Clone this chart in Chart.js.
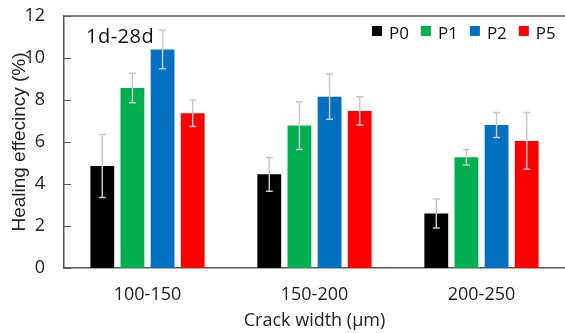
<!DOCTYPE html>
<html>
<head>
<meta charset="utf-8">
<script src="https://cdn.jsdelivr.net/npm/chart.js"></script>
<style>
  html, body { margin: 0; padding: 0; background: #fff; }
  #wrap { width: 565px; height: 333px; position: relative; }
</style>
</head>
<body>
<div id="wrap"><canvas id="myChart"></canvas></div>
<script>
var categories = ['100-150', '150-200', '200-250'];
var seriesNames = ['P0', 'P1', 'P2', 'P5'];
var p0 = [4.86, 4.46, 2.60];
var p1 = [8.57, 6.78, 5.27];
var p2 = [10.41, 8.16, 6.81];
var p5 = [7.37, 7.48, 6.05];
var p0Err = [1.50, 0.80, 0.69];
var p1Err = [0.70, 1.14, 0.37];
var p2Err = [0.92, 1.08, 0.60];
var p5Err = [0.63, 0.67, 1.35];
var yTicks = [0, 2, 4, 6, 8, 10, 12];

var colors = ['#000000', '#00B050', '#0070C0', '#FF0000'];
var values = [p0, p1, p2, p5];
var errors = [p0Err, p1Err, p2Err, p5Err];

var datasets = seriesNames.map(function (name, i) {
  return {
    label: name,
    data: values[i],
    errors: errors[i],
    backgroundColor: colors[i],
    borderWidth: 0,
    categoryPercentage: 0.722,
    barPercentage: 0.79
  };
});

// error bars, top frame line, inside ticks, panel label and legend
var extras = {
  id: 'extras',
  afterDatasetsDraw: function (chart) {
    var ctx = chart.ctx;
    var y = chart.scales.y;
    var area = chart.chartArea;
    ctx.save();
    ctx.strokeStyle = '#c8c8c8';
    ctx.lineWidth = 1.5;
    chart.data.datasets.forEach(function (ds, di) {
      var meta = chart.getDatasetMeta(di);
      meta.data.forEach(function (bar, j) {
        var v = ds.data[j], e = ds.errors[j];
        var top = y.getPixelForValue(v + e);
        var bot = y.getPixelForValue(v - e);
        ctx.beginPath();
        ctx.moveTo(bar.x, top); ctx.lineTo(bar.x, bot);
        ctx.moveTo(bar.x - 3.5, top); ctx.lineTo(bar.x + 3.5, top);
        ctx.moveTo(bar.x - 3.5, bot); ctx.lineTo(bar.x + 3.5, bot);
        ctx.stroke();
      });
    });

    ctx.strokeStyle = '#595959';
    ctx.lineWidth = 1.5;
    ctx.beginPath();
    ctx.moveTo(area.left, area.top);
    ctx.lineTo(area.right, area.top);
    ctx.stroke();
    ctx.lineWidth = 1;
    ctx.beginPath();
    yTicks.forEach(function (t) {
      var py = Math.round(y.getPixelForValue(t)) + 0.5;
      ctx.moveTo(area.left, py); ctx.lineTo(area.left + 7, py);
    });
    ctx.stroke();

    ctx.fillStyle = '#111';
    ctx.font = '20px "Open Sans"';
    ctx.textAlign = 'left';
    ctx.textBaseline = 'alphabetic';
    ctx.letterSpacing = '0.5px';
    ctx.fillText('1d-28d', 86, 43);
    ctx.letterSpacing = '0px';

    ctx.font = '17px "Open Sans"';
    var lx = 372;
    seriesNames.forEach(function (name, i) {
      ctx.fillStyle = colors[i];
      ctx.fillRect(lx, 26, 10, 10);
      ctx.fillStyle = '#111';
      ctx.fillText(name, lx + 17, 39);
      lx += 17 + ctx.measureText(name).width + 12;
    });
    ctx.restore();
  }
};

var ctx1 = document.getElementById('myChart').getContext('2d');
var myChart = new Chart(ctx1, {
  type: 'bar',
  data: { labels: categories, datasets: datasets },
  options: {
    responsive: true,
    maintainAspectRatio: false,
    animation: false,
    layout: { padding: { top: 16, right: -4, left: 0, bottom: 0 } },
    plugins: {
      legend: { display: false },
      tooltip: { enabled: false }
    },
    scales: {
      x: {
        grid: { display: false, drawTicks: false },
        border: { display: true, color: '#595959', width: 1.5 },
        ticks: { color: '#222', font: { family: 'Open Sans', size: 18 }, padding: 16 },
        title: {
          display: true,
          text: 'Crack width (\u03bcm)',
          color: '#222',
          font: { family: 'Open Sans', size: 18 },
          padding: { top: 0, bottom: 1 }
        },
        afterFit: function (axis) {
          axis.height = 65;
          axis.paddingLeft = 0;
          axis.paddingRight = 0;
        }
      },
      y: {
        min: 0,
        max: 12,
        grid: { display: false, drawTicks: false },
        border: { display: true, color: '#595959', width: 1.5 },
        afterBuildTicks: function (axis) {
          axis.ticks = yTicks.map(function (v) { return { value: v }; });
        },
        ticks: { color: '#222', font: { family: 'Open Sans', size: 18 }, padding: 19 },
        title: {
          display: true,
          text: 'Healing effecincy (%)',
          color: '#222',
          font: { family: 'Liberation Sans', size: 19 },
          padding: { top: 8.6, bottom: 0 }
        },
        afterFit: function (axis) {
          axis.width = 64;
          axis.paddingTop = 0;
          axis.paddingBottom = 0;
        }
      }
    }
  },
  plugins: [extras]
});
</script>
</body>
</html>
